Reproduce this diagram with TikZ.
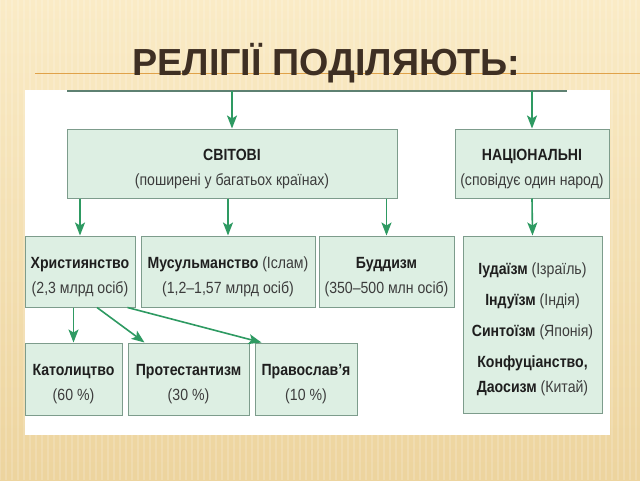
\documentclass[tikz,border=0pt]{standalone}
\usepackage{fontspec}
\setmainfont{Liberation Sans}
\newfontfamily\condfont{Liberation Sans}[FakeStretch=0.87]
\usetikzlibrary{arrows.meta}

\definecolor{bgtop}{HTML}{FAEBC6}
\definecolor{bgbot}{HTML}{EDD49E}
\definecolor{ruleor}{HTML}{E0A24A}
\definecolor{titlebrown}{HTML}{3E2F23}
\definecolor{boxfill}{HTML}{DDEFE3}
\definecolor{boxline}{HTML}{7D9C8C}
\definecolor{arrgreen}{HTML}{2E9A62}
\definecolor{topline}{HTML}{5E8172}
\definecolor{txtdark}{HTML}{1E1E1E}
\definecolor{txtgray}{HTML}{3C3C3C}

\newcommand\paren[1]{{\mdseries\color{txtgray}#1}}
\newcommand\topgap{\rule{0pt}{22pt}}

\begin{document}
\begin{tikzpicture}[x=1pt,y=-1pt,
    box/.style={draw=boxline,fill=boxfill,line width=1pt,inner sep=0pt,align=center,
      font=\condfont\fontsize{16.2}{25}\selectfont\bfseries,text=txtdark},
    arr/.style={-{Stealth[length=13pt,width=10pt,inset=3pt]},draw=arrgreen,fill=arrgreen,line width=1.6pt}]
    \useasboundingbox (0,0) rectangle (640,480);
    % background and title
    \shade[top color=bgtop,bottom color=bgbot] (0,0) rectangle (640,480);
    \foreach \x in {0,6,...,640}
      \draw[white,opacity=0.16,line width=1.6pt] (\x,0) -- (\x,480);
    \draw[ruleor,line width=0.9pt] (35,73) -- (640,73);
    \node[anchor=base,text=titlebrown,font=\fontsize{37.7}{40}\selectfont\bfseries] (title) at (326,75) {РЕЛІГІЇ ПОДІЛЯЮТЬ:};
    \fill[white] (25,90) rectangle (610,435);

    % boxes
    \node[box,minimum width=330,minimum height=69] (svit) at (232,163.5)
      {\topgap СВІТОВІ\\\paren{(поширені у багатьох країнах)}};
    \node[box,minimum width=154,minimum height=69] (nats) at (532,163.5)
      {\topgap НАЦІОНАЛЬНІ\\\paren{(сповідує один народ)}};
    \node[box,minimum width=110,minimum height=71] (khr) at (80,271.5)
      {\topgap Християнство\\\paren{(2,3 млрд осіб)}};
    \node[box,minimum width=174,minimum height=71] (mus) at (228,271.5)
      {\topgap Мусульманство \paren{(Іслам)}\\\paren{(1,2–1,57 млрд осіб)}};
    \node[box,minimum width=135,minimum height=71] (bud) at (386.5,271.5)
      {\topgap Буддизм\\\paren{(350–500 млн осіб)}};
    \node[box,minimum width=139,minimum height=177] (natl) at (532.5,324.5)
      {\topgap Іудаїзм \paren{(Ізраїль)}\\[6pt]Індуїзм \paren{(Індія)}\\[6pt]Синтоїзм \paren{(Японія)}\\[6pt]Конфуціанство,\\Даосизм \paren{(Китай)}};
    \node[box,minimum width=97,minimum height=72] (kat) at (73.5,379)
      {\topgap Католицтво\\\paren{(60 \%)}};
    \node[box,minimum width=121,minimum height=72] (prot) at (188.5,379)
      {\topgap Протестантизм\\\paren{(30 \%)}};
    \node[box,minimum width=102,minimum height=72] (prav) at (306,379)
      {\topgap Православ’я\\\paren{(10 \%)}};

    % connectors
    \coordinate (tl) at (67,91);
    \coordinate (tr) at (567,91);
    \draw[topline,line width=1.6pt] (tl) -- (tr);
    \draw[arr] (svit.north |- tl) -- (svit.north);
    \draw[arr] (nats.north |- tl) -- (nats.north);
    \draw[arr] (khr.north |- svit.south) -- (khr.north);
    \draw[arr] (mus.north |- svit.south) -- (mus.north);
    \draw[arr] (bud.north |- svit.south) -- (bud.north);
    \draw[arr] (nats.south) -- (natl.north);
    \draw[arr] (kat.north |- khr.south) -- (kat.north);
    \draw[arr] ([xshift=17]khr.south) -- ([xshift=17]prot.north west);
    \draw[arr] ([xshift=-8]khr.south east) -- ([xshift=7]prav.north west);
\end{tikzpicture}
\end{document}
